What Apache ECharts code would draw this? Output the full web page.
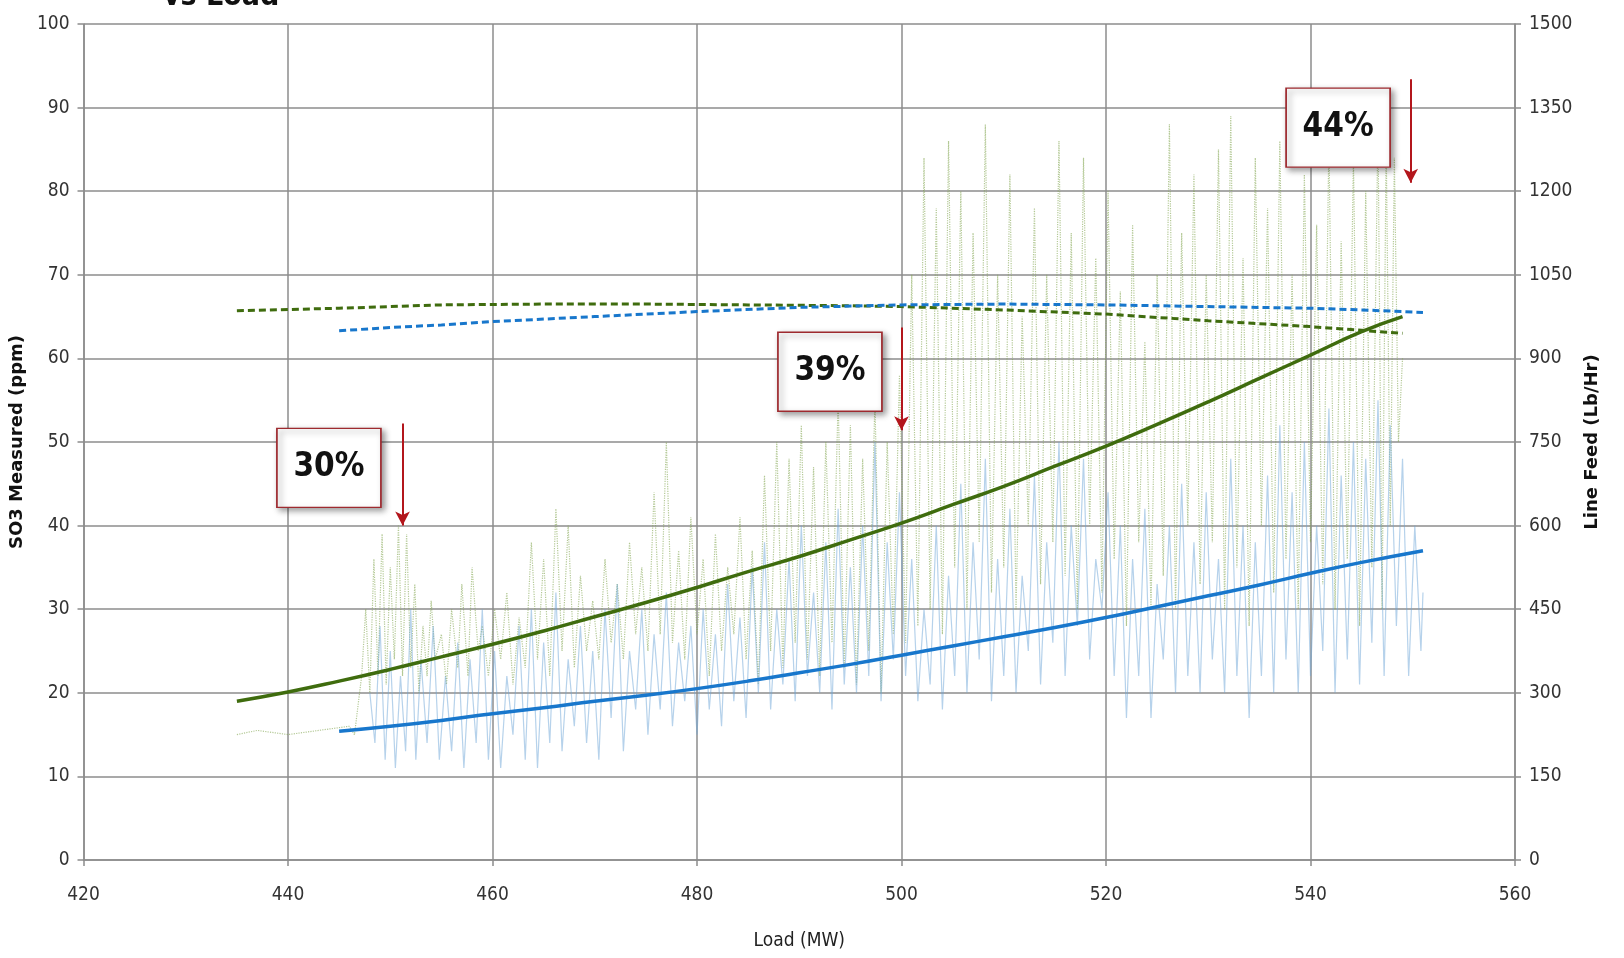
<!DOCTYPE html>
<html>
<head>
<meta charset="utf-8">
<script src="https://cdn.jsdelivr.net/npm/echarts@6/dist/echarts.min.js"></script>
<style>
html,body{margin:0;padding:0;background:#fff;}
#chart{width:1624px;height:958px;}
</style>
</head>
<body>
<div id="chart"></div>
<script>
// ---- axis settings ----
const xTicks = {min: 420, max: 560, interval: 20};
const leftTicks = {min: 0, max: 100, interval: 10};
const rightTicks = {min: 0, max: 1500, interval: 150};

// ---- trend lines (load MW, value in left-axis units) ----
const greenTrendLoad = [435, 440, 445, 450, 455, 460, 465, 470, 475, 480, 485, 490, 495, 500, 505, 510, 515, 520, 525, 530, 535, 540, 545, 549];
const greenTrendVal  = [19.0, 20.1, 21.4, 22.8, 24.3, 25.8, 27.4, 29.1, 30.8, 32.6, 34.5, 36.3, 38.3, 40.3, 42.5, 44.7, 47.1, 49.5, 52.1, 54.8, 57.6, 60.4, 63.2, 65.0];

const blueTrendLoad = [445, 450, 455, 460, 465, 470, 475, 480, 485, 490, 495, 500, 505, 510, 515, 520, 525, 530, 535, 540, 545, 551];
const blueTrendVal  = [15.4, 16.0, 16.7, 17.5, 18.2, 19.0, 19.7, 20.5, 21.4, 22.4, 23.4, 24.5, 25.6, 26.7, 27.8, 29.0, 30.3, 31.6, 32.9, 34.3, 35.6, 37.0];

const greenDashLoad = [435, 445, 455, 465, 475, 485, 495, 500, 510, 520, 530, 540, 549];
const greenDashVal  = [65.7, 66.0, 66.4, 66.5, 66.5, 66.4, 66.3, 66.2, 65.8, 65.3, 64.5, 63.8, 63.0];

const blueDashLoad = [445, 450, 455, 460, 470, 480, 490, 500, 510, 520, 530, 540, 545, 551];
const blueDashVal  = [63.3, 63.7, 64.0, 64.4, 65.0, 65.6, 66.1, 66.4, 66.5, 66.4, 66.2, 66.0, 65.8, 65.5];

// ---- raw measurements [load, value] ----
const greenRaw = [
[435,15],[437,15.5],[440,15],[443,15.5],[446,16],[446.5,15],[447.2,22],[447.6,30],[448,20],[448.4,36],[448.8,22],[449.2,39],[449.6,21],[450,35],[450.4,24],[450.8,40],[451.2,22],[451.6,39],[452,23],[452.4,33],[452.8,20],[453.2,28],[453.6,22],[454,31],[454.4,24],[455,27],[455.5,21],[456,30],[456.6,23],[457,33],[457.6,22],[458,35],[458.6,25],[459,28],[459.6,22],[460.2,30],[460.8,24],[461.4,32],[462,21],[462.6,29],[463.2,23],[463.8,38],[464.4,24],[465,36],[465.6,22],[466.2,42],[466.8,25],[467.4,40],[468,23],[468.6,34],[469.2,25],[469.8,31],[470.4,24],[471,36],[471.6,26],[472.2,33],[472.8,24],[473.4,38],[474,27],[474.6,35],[475.2,25],[475.8,44],[476.4,27],[477,50],[477.6,26],[478.2,37],[478.8,24],[479.4,41],[480,27],[480.6,36],[481.2,22],[481.8,39],[482.4,25],[483,35],[483.6,27],[484.2,41],[484.8,24],[485.4,37],[486,21],[486.6,46],[487.2,25],[487.8,50],[488.4,23],[489,48],[489.6,26],[490.2,52],[490.8,24],[491.4,47],[492,22],[492.6,50],[493.2,26],[493.8,55],[494.4,23],[495,52],[495.6,21],[496.2,48],[496.8,25],[497.4,55],[498,20],[498.6,50],[499.2,27],[499.8,58],[500.4,26],[501,70],[501.6,28],[502.2,84],[502.8,30],[503.4,78],[504,27],[504.6,86],[505.2,35],[505.8,80],[506.4,30],[507,75],[507.6,38],[508.2,88],[508.8,32],[509.4,70],[510,35],[510.6,82],[511.2,30],[511.8,65],[512.4,40],[513,78],[513.6,33],[514.2,70],[514.8,38],[515.4,86],[516,34],[516.6,75],[517.2,30],[517.8,84],[518.4,40],[519,72],[519.6,32],[520.2,80],[520.8,36],[521.4,68],[522,28],[522.6,76],[523.2,38],[523.8,62],[524.4,30],[525,70],[525.6,34],[526.2,88],[526.8,30],[527.4,75],[528,40],[528.6,82],[529.2,33],[529.8,70],[530.4,38],[531,85],[531.6,30],[532.2,89],[532.8,35],[533.4,72],[534,28],[534.6,84],[535.2,40],[535.8,78],[536.4,32],[537,86],[537.6,36],[538.2,70],[538.8,30],[539.4,82],[540,38],[540.6,76],[541.2,33],[541.8,86],[542.4,30],[543,74],[543.6,36],[544.2,84],[544.8,28],[545.4,80],[546,35],[546.6,88],[547,30],[547.4,86],[547.8,40],[548.2,84],[548.6,50],[549,60]
];

const blueRaw = [
[448,20],[448.5,14],[449,28],[449.5,12],[450,25],[450.5,11],[451,22],[451.5,13],[452,30],[452.5,12],[453,24],[453.6,14],[454.2,28],[454.8,12],[455.4,22],[456,13],[456.6,26],[457.2,11],[457.8,24],[458.4,14],[459,30],[459.6,12],[460.2,25],[460.8,11],[461.4,22],[462,15],[462.6,28],[463.2,12],[463.8,30],[464.4,11],[465,26],[465.6,14],[466.2,32],[466.8,13],[467.4,24],[468,16],[468.6,28],[469.2,14],[469.8,25],[470.4,12],[471,30],[471.6,17],[472.2,33],[472.8,13],[473.4,25],[474,18],[474.6,30],[475.2,15],[475.8,27],[476.4,18],[477,32],[477.6,16],[478.2,26],[478.8,19],[479.4,28],[480,15],[480.6,30],[481.2,18],[481.8,27],[482.4,16],[483,33],[483.6,19],[484.2,29],[484.8,17],[485.4,35],[486,20],[486.6,38],[487.2,18],[487.8,30],[488.4,21],[489,36],[489.6,19],[490.2,40],[490.8,22],[491.4,32],[492,20],[492.6,38],[493.2,18],[493.8,42],[494.4,21],[495,35],[495.6,20],[496.2,40],[496.8,22],[497.4,50],[498,19],[498.6,38],[499.2,24],[499.8,44],[500.4,22],[501,36],[501.6,19],[502.2,30],[502.8,21],[503.4,40],[504,18],[504.6,34],[505.2,22],[505.8,45],[506.4,20],[507,38],[507.6,24],[508.2,48],[508.8,19],[509.4,36],[510,22],[510.6,42],[511.2,20],[511.8,34],[512.4,25],[513,46],[513.6,21],[514.2,38],[514.8,26],[515.4,50],[516,22],[516.6,40],[517.2,28],[517.8,48],[518.4,24],[519,36],[519.6,30],[520.2,44],[520.8,22],[521.4,40],[522,17],[522.6,36],[523.2,22],[523.8,42],[524.4,17],[525,33],[525.6,24],[526.2,40],[526.8,20],[527.4,45],[528,22],[528.6,38],[529.2,20],[529.8,44],[530.4,24],[531,36],[531.6,20],[532.2,48],[532.8,22],[533.4,40],[534,17],[534.6,38],[535.2,22],[535.8,46],[536.4,20],[537,52],[537.6,24],[538.2,44],[538.8,20],[539.4,50],[540,22],[540.6,40],[541.2,25],[541.8,54],[542.4,20],[543,46],[543.6,24],[544.2,50],[544.8,21],[545.4,48],[546,26],[546.6,55],[547.2,22],[547.8,52],[548.4,28],[549,48],[549.6,22],[550.2,40],[550.8,25],[551,32]
];

// ---- annotations ----
const noteLabels = ['30%', '39%', '44%'];
const noteBoxAt  = [[444.0, 46.9], [493.0, 58.4], [542.7, 87.6]];
const arrowLoad  = [451.2, 500.0, 549.8];
const arrowFrom  = [52.2, 63.7, 93.4];
const arrowTo    = [40.0, 51.4, 81.0];

const titleText = 'vs Load';
const xName = 'Load (MW)';
const leftName = 'SO3 Measured (ppm)';
const rightName = 'Line Feed (Lb/Hr)';

function zip(a, b) { return a.map((v, i) => [v, b[i]]); }

const narrow = "'Liberation Sans Narrow', 'DejaVu Sans Condensed', 'Liberation Sans', sans-serif";
const gridColor = '#8c8c8c';
const greenC = '#3f6c0e';
const blueC = '#1877cc';

const chart = echarts.init(document.getElementById('chart'), null, {renderer: 'canvas'});

const option = {
  animation: false,
  backgroundColor: '#ffffff',
  grid: {left: 80, right: 109, top: 24, bottom: 98, containLabel: false},
  graphic: [{
    type: 'text', left: 163, top: -18,
    style: {text: titleText, font: "bold 30px " + narrow, fill: '#111'}
  }],
  xAxis: {
    type: 'value', min: xTicks.min, max: xTicks.max, interval: xTicks.interval,
    name: xName, nameLocation: 'middle', nameGap: 72,
    nameTextStyle: {fontFamily: narrow, fontSize: 19, color: '#222'},
    axisLine: {show: true, lineStyle: {color: gridColor, width: 1.5}},
    axisTick: {show: true, length: 6, lineStyle: {color: gridColor, width: 1.5}},
    axisLabel: {fontFamily: narrow, fontSize: 19, color: '#333', margin: 26, formatter: v => String(v)},
    splitLine: {show: true, lineStyle: {color: gridColor, width: 1.5}}
  },
  yAxis: [{
    type: 'value', min: leftTicks.min, max: leftTicks.max, interval: leftTicks.interval,
    position: 'left',
    name: leftName, nameLocation: 'middle', nameGap: 46, nameRotate: 90,
    nameTextStyle: {fontFamily: "'DejaVu Sans', sans-serif", fontSize: 18, fontWeight: 'bold', color: '#111'},
    axisLine: {show: true, lineStyle: {color: gridColor, width: 1.5}},
    axisTick: {show: true, length: 6, lineStyle: {color: gridColor, width: 1.5}},
    axisLabel: {fontFamily: narrow, fontSize: 19, color: '#333', margin: 14, formatter: v => String(v)},
    splitLine: {show: true, lineStyle: {color: gridColor, width: 1.5}}
  }, {
    type: 'value', min: rightTicks.min, max: rightTicks.max, interval: rightTicks.interval,
    position: 'right',
    name: rightName, nameLocation: 'middle', nameGap: 59, nameRotate: 90,
    nameTextStyle: {fontFamily: "'DejaVu Sans', sans-serif", fontSize: 18, fontWeight: 'bold', color: '#111'},
    axisLine: {show: true, lineStyle: {color: gridColor, width: 1.5}},
    axisTick: {show: true, length: 6, lineStyle: {color: gridColor, width: 1.5}},
    axisLabel: {fontFamily: narrow, fontSize: 19, color: '#333', margin: 14, formatter: v => String(v)},
    splitLine: {show: false}
  }],
  series: [
    {
      name: 'SO3 raw', type: 'line', data: greenRaw, showSymbol: false, z: 2,
      lineStyle: {color: 'rgba(130,165,80,0.6)', width: 1.2, type: 'dotted'}
    },
    {
      name: 'Lime raw', type: 'line', data: blueRaw, showSymbol: false, z: 2,
      lineStyle: {color: 'rgba(110,165,215,0.5)', width: 1.2}
    },
    {
      name: 'Green dash', type: 'line', data: zip(greenDashLoad, greenDashVal), showSymbol: false, z: 4,
      lineStyle: {color: greenC, width: 3, type: [7, 4]}
    },
    {
      name: 'Blue dash', type: 'line', data: zip(blueDashLoad, blueDashVal), showSymbol: false, z: 4,
      lineStyle: {color: blueC, width: 3, type: [7, 4]}
    },
    {
      name: 'Green trend', type: 'line', data: zip(greenTrendLoad, greenTrendVal), showSymbol: false, smooth: true, z: 5,
      lineStyle: {color: greenC, width: 3.5}
    },
    {
      name: 'Blue trend', type: 'line', data: zip(blueTrendLoad, blueTrendVal), showSymbol: false, smooth: true, z: 5,
      lineStyle: {color: blueC, width: 3.5}
    },
    {
      name: 'Notes', type: 'line', data: [], z: 10,
      markLine: {
        silent: true,
        symbol: ['none', 'arrow'], symbolSize: [11, 14],
        label: {show: false},
        lineStyle: {color: '#b3161c', width: 2, type: 'solid'},
        data: arrowLoad.map((x, i) => [{coord: [x, arrowFrom[i]]}, {coord: [x, arrowTo[i]]}])
      },
      markPoint: {
        silent: true,
        symbol: 'rect', symbolSize: [104, 79],
        itemStyle: {color: '#ffffff', borderColor: '#9e2a2f', borderWidth: 1.5,
          shadowBlur: 6, shadowColor: 'rgba(0,0,0,0.4)', shadowOffsetX: 3, shadowOffsetY: 3},
        label: {show: true, position: 'inside', fontFamily: narrow, fontSize: 33, fontWeight: 'bold', color: '#111'},
        data: noteBoxAt.map((c, i) => ({coord: c, value: noteLabels[i], label: {formatter: noteLabels[i]}}))
      }
    }
  ]
};
chart.setOption(option);
</script>
</body>
</html>
